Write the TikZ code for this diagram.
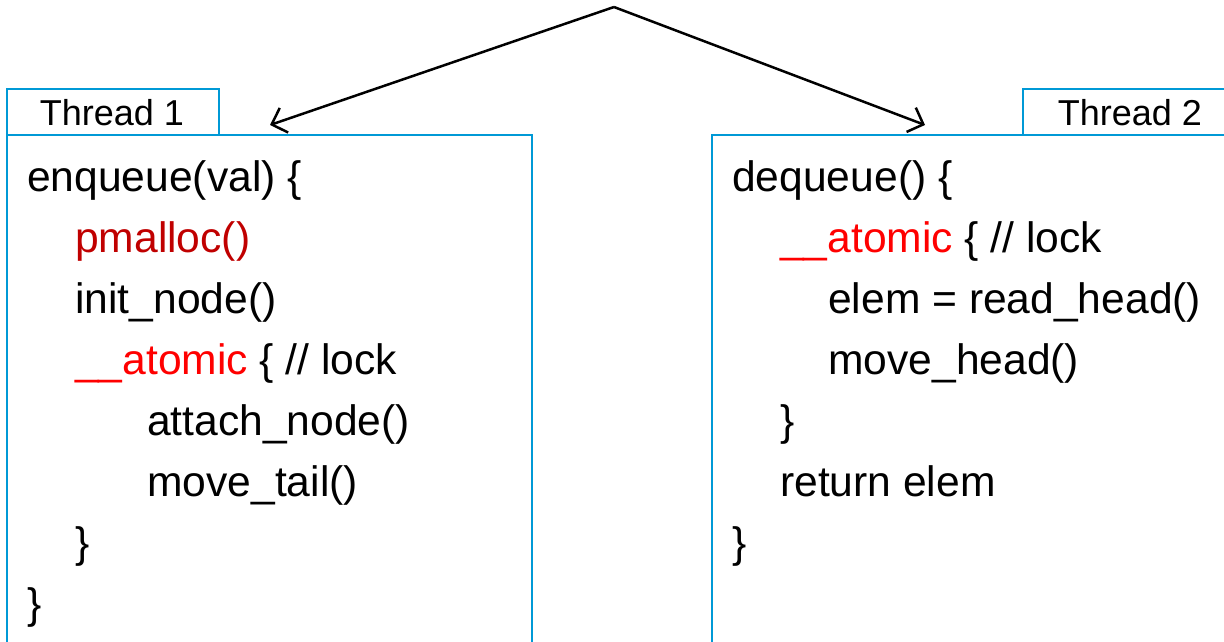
\documentclass[tikz,border=0pt]{standalone}
\usepackage{fontspec}
\setmainfont{Liberation Sans}
\usetikzlibrary{arrows.meta}
\definecolor{boxblue}{RGB}{0,153,214}
\definecolor{darkred}{RGB}{192,0,0}
\definecolor{brightred}{RGB}{255,0,0}
\tikzset{
  x=1pt,y=-1pt,
  frame/.style={draw=boxblue,line width=2.2pt},
  code/.style={anchor=base west,inner sep=0pt,font=\fontsize{42.6}{50}\selectfont},
  tab/.style={anchor=base,inner sep=0pt,font=\fontsize{36}{42}\selectfont},
  flow/.style={line width=2.5pt,-{Straight Barb[length=13pt,width=26pt,line width=2.5pt]}}
}
\begin{document}
\begin{tikzpicture}
\useasboundingbox (0,0) rectangle (1224,641);
% boxes
\draw[frame] (7,660) -- (7,135) -- (532,135) -- (532,660);
\draw[frame] (7,135) -- (7,89) -- (219,89) -- (219,135);
\draw[frame] (712,660) -- (712,135) -- (1240,135);
\draw[frame] (1023,135) -- (1023,89) -- (1240,89);
\node[tab] (t1) at (112,125) {Thread 1};
\node[tab] (t2) at (1130,125) {Thread 2};
% arrows
\coordinate (apex) at (614,7);
\coordinate (la) at (270,125);
\coordinate (ra) at (925,125);
\draw[flow] (apex) -- (la);
\draw[flow] (apex) -- (ra);
% left code
\node[code] (l1) at (27,191) {enqueue(val) \{};
\node[code,text=darkred] (l2) at (75,252) {pmalloc()};
\node[code] (l3) at (75,313) {init\_node()};
\node[code] (l4) at (75,374) {\textcolor{brightred}{\_\_atomic} \{ // lock};
\node[code] (l5) at (147,435) {attach\_node()};
\node[code] (l6) at (147,496) {move\_tail()};
\node[code] (l7) at (75,557) {\}};
\node[code] (l8) at (27,618) {\}};
% right code
\node[code] (r1) at (732,191) {dequeue() \{};
\node[code] (r2) at (780,252) {\textcolor{brightred}{\_\_atomic} \{ // lock};
\node[code] (r3) at (828,313) {elem = read\_head()};
\node[code] (r4) at (828,374) {move\_head()};
\node[code] (r5) at (780,435) {\}};
\node[code] (r6) at (780,496) {return elem};
\node[code] (r7) at (732,557) {\}};
\end{tikzpicture}
\end{document}
